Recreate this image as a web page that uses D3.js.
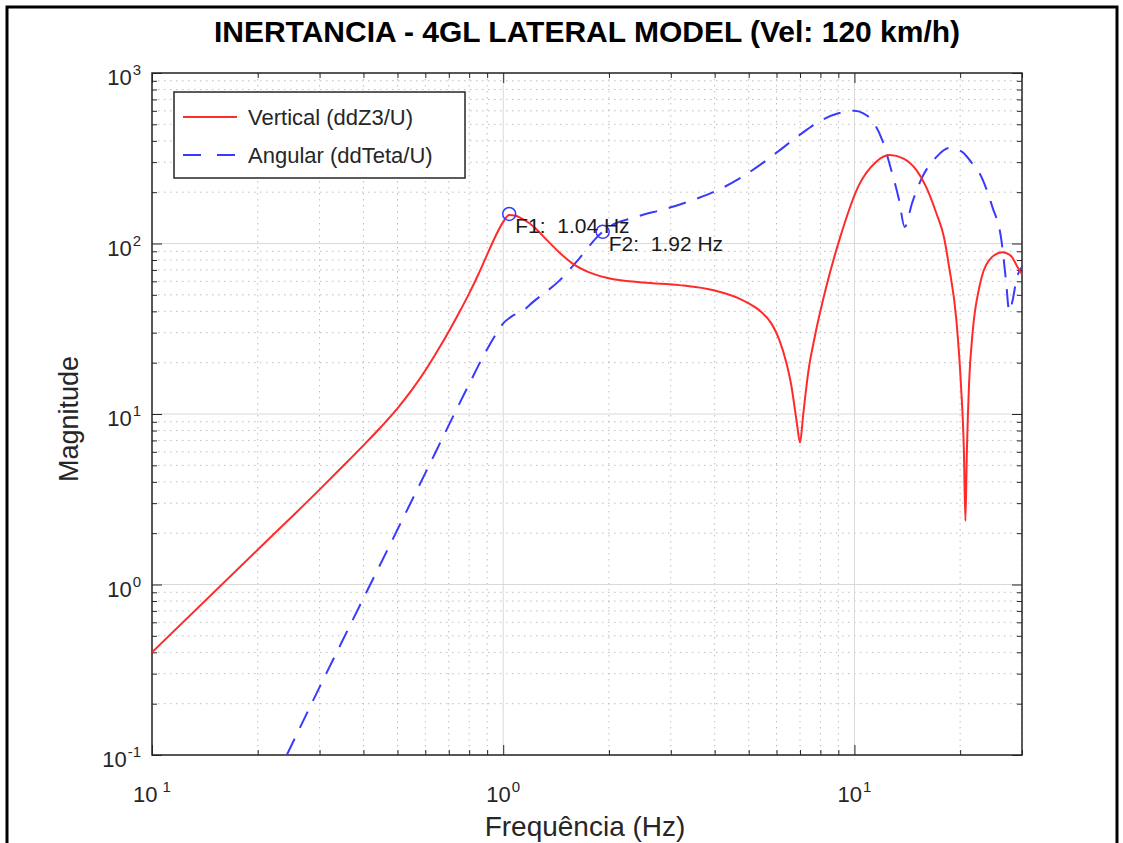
<!DOCTYPE html>
<html>
<head>
<meta charset="utf-8">
<title>Inertancia 4GL</title>
<script src="https://d3js.org/d3.v7.min.js"></script>
<style>
  body { margin: 0; background: #fff; }
  text { font-family: "Liberation Sans", Arial, sans-serif; fill: #262626; }
</style>
</head>
<body>
<div id="chart"></div>
<script>
// Vertical (ddZ3/U)
var vertFreq = [0.1, 0.2, 0.3, 0.35, 0.4, 0.45, 0.5, 0.55, 0.6, 0.65, 0.7, 0.75, 0.8, 0.85, 0.9, 0.95, 1.0, 1.04, 1.08, 1.13, 1.19, 1.26, 1.33, 1.45, 1.58, 1.75, 1.97, 2.5, 3.18, 4.0, 4.7, 5.0, 5.4, 5.8, 6.1, 6.4, 6.6, 6.85, 7.0, 7.15, 7.4, 7.7, 8.3, 9.06, 10.3, 11.5, 12.6, 13.8, 15, 16, 17.1, 18, 18.6, 19.5, 20.1, 20.5, 20.7, 20.9, 21.2, 21.7, 22.7, 24.2, 26.4, 28, 29.1, 30];
var vertMag  = [0.40, 1.6, 3.6, 4.95, 6.55, 8.45, 10.8, 13.9, 18.0, 23.5, 30.5, 39.5, 51, 66, 86, 110, 134, 147, 146, 140, 131, 118, 105, 88, 76, 68, 63, 59, 57, 53, 47.5, 44.5, 40, 34, 27.5, 20, 15, 9, 6.8, 10, 18, 28, 55, 105, 220, 300, 330, 315, 270, 215, 151, 108, 73, 36, 15, 6, 2.36, 6, 15, 30, 56, 80, 89, 84, 73, 66];

// Angular (ddTeta/U)
var angFreq = [0.242, 0.3, 0.4, 0.5, 0.6, 0.7, 0.8, 0.9, 0.97, 1.0, 1.05, 1.15, 1.21, 1.45, 1.65, 1.85, 2.0, 2.33, 3.0, 3.6, 4.13, 4.7, 5.4, 6.1, 7.0, 7.95, 9.0, 10.0, 10.6, 11.2, 12.0, 12.8, 13.4, 13.9, 14.6, 15.6, 17.1, 18.6, 20.3, 21.5, 22.7, 24.7, 26.2, 27.0, 27.6, 28.3, 28.9, 30];
var angMag  = [0.1, 0.25, 0.83, 2.1, 4.5, 8.6, 15, 24, 31, 34, 37, 41, 45, 61, 82, 109, 125, 141, 163, 185, 208, 240, 290, 350, 435, 520, 580, 600, 580, 530, 404, 259, 180, 125, 173, 245, 321, 363, 344, 300, 259, 164, 105, 61, 40, 48, 61, 73];

// marked natural frequencies
var peakFreq = [1.04, 1.92];
var peakMag = [149, 117];
var peakLabels = ["F1:  1.04 Hz", "F2:  1.92 Hz"];

// ticks
var xMajor = [0.1, 1, 10];
var xMajorExp = ["1", "0", "1"];   // minus sign is lost in the original picture
var yMajor = [0.1, 1, 10, 100, 1000];
var yMajorExp = ["-1", "0", "1", "2", "3"];

var seriesNames = ["Vertical (ddZ3/U)", "Angular (ddTeta/U)"];
var seriesColors = ["#ff2a2a", "#3a3aff"];

var W = 1123, H = 843;
var margin = { top: 73, right: 101, bottom: 88, left: 152 };
var width = W - margin.left - margin.right,
    height = H - margin.top - margin.bottom;

var svg = d3.select("#chart").append("svg")
    .attr("width", W)
    .attr("height", H);

// outer frame
svg.append("rect")
    .attr("x", 7).attr("y", 7)
    .attr("width", 1110).attr("height", 900)
    .attr("fill", "none")
    .attr("stroke", "#000")
    .attr("stroke-width", 3);

var g = svg.append("g")
    .attr("transform", "translate(" + margin.left + "," + margin.top + ")");

var x = d3.scaleLog().domain([0.1, 30]).range([0, width]);
var y = d3.scaleLog().domain([0.1, 1000]).range([height, 0]);

// minor values (2..9 of each decade)
var xMinor = x.ticks().filter(function (d) { return xMajor.indexOf(d) < 0; });
var yMinor = y.ticks().filter(function (d) { return yMajor.indexOf(d) < 0; });

// grid
g.selectAll(".xminor").data(xMinor).enter().append("line")
    .attr("x1", function (d) { return x(d); }).attr("x2", function (d) { return x(d); })
    .attr("y1", 0).attr("y2", height)
    .attr("stroke", "#bdbdbd").attr("stroke-dasharray", "1.5,4.5");
g.selectAll(".yminor").data(yMinor).enter().append("line")
    .attr("y1", function (d) { return y(d); }).attr("y2", function (d) { return y(d); })
    .attr("x1", 0).attr("x2", width)
    .attr("stroke", "#bdbdbd").attr("stroke-dasharray", "1.5,4.5");
g.selectAll(".xmajor").data(xMajor).enter().append("line")
    .attr("x1", function (d) { return x(d); }).attr("x2", function (d) { return x(d); })
    .attr("y1", 0).attr("y2", height)
    .attr("stroke", "#d9d9d9");
g.selectAll(".ymajor").data(yMajor).enter().append("line")
    .attr("y1", function (d) { return y(d); }).attr("y2", function (d) { return y(d); })
    .attr("x1", 0).attr("x2", width)
    .attr("stroke", "#d9d9d9");

// axes with inward ticks on all four sides
function tickAxis(axisFn, scale, vals, size, tr) {
    var a = g.append("g").attr("transform", tr)
        .call(axisFn(scale).tickValues(vals).tickSize(size).tickFormat(""));
    a.select(".domain").remove();
    a.selectAll("line").attr("stroke", "#262626");
}
[[xMajor, 10], [xMinor, 5]].forEach(function (p) {
    tickAxis(d3.axisBottom, x, p[0], -p[1], "translate(0," + height + ")");
    tickAxis(d3.axisTop, x, p[0], -p[1], "translate(0,0)");
    tickAxis(d3.axisLeft, y, p[0] === xMajor ? yMajor : yMinor, -p[1], "translate(0,0)");
    tickAxis(d3.axisRight, y, p[0] === xMajor ? yMajor : yMinor, -p[1], "translate(" + width + ",0)");
});

g.append("rect")
    .attr("width", width).attr("height", height)
    .attr("fill", "none").attr("stroke", "#262626").attr("stroke-width", 1.5);

// tick labels
var xl = g.selectAll(".xlab").data(xMajor).enter().append("text")
    .attr("x", function (d) { return x(d); })
    .attr("y", height + 47)
    .attr("text-anchor", "middle")
    .style("font-size", "22px");
xl.append("tspan").text("10");
xl.append("tspan")
    .attr("dx", function (d, i) { return i === 0 ? 5 : 1; })
    .attr("dy", -10).style("font-size", "15px")
    .text(function (d, i) { return xMajorExp[i]; });

var yl = g.selectAll(".ylab").data(yMajor).enter().append("text")
    .attr("x", -11)
    .attr("y", function (d) { return y(d) + 12; })
    .attr("text-anchor", "end")
    .style("font-size", "22px");
yl.append("tspan").text("10");
yl.append("tspan")
    .attr("dx", 1).attr("dy", -10).style("font-size", "15px")
    .text(function (d, i) { return yMajorExp[i]; });

// axis titles
svg.append("text")
    .attr("x", margin.left + width / 2 - 2)
    .attr("y", 836)
    .attr("text-anchor", "middle")
    .style("font-size", "28px")
    .text("Frequência (Hz)");

svg.append("text")
    .attr("transform", "translate(78," + (margin.top + height / 2 + 5) + ") rotate(-90)")
    .attr("text-anchor", "middle")
    .style("font-size", "27px")
    .text("Magnitude");

svg.append("text")
    .attr("x", margin.left + width / 2)
    .attr("y", 42)
    .attr("text-anchor", "middle")
    .style("font-size", "30px")
    .style("font-weight", "bold")
    .style("fill", "#000")
    .text("INERTANCIA - 4GL LATERAL MODEL (Vel: 120 km/h)");

// curves
g.append("clipPath").attr("id", "clip")
    .append("rect").attr("width", width).attr("height", height);

var line = d3.line()
    .x(function (d) { return x(d[0]); })
    .y(function (d) { return y(d[1]); })
    .curve(d3.curveMonotoneX);

var vertData = d3.zip(vertFreq, vertMag);
var angData = d3.zip(angFreq, angMag);

g.append("path")
    .datum(angData)
    .attr("clip-path", "url(#clip)")
    .attr("fill", "none")
    .attr("stroke", seriesColors[1])
    .attr("stroke-width", 2)
    .attr("stroke-dasharray", "18,12")
    .attr("d", line);

g.append("path")
    .datum(vertData)
    .attr("clip-path", "url(#clip)")
    .attr("fill", "none")
    .attr("stroke", seriesColors[0])
    .attr("stroke-width", 2)
    .attr("d", line);

// peak markers
g.selectAll(".peak").data(peakFreq).enter().append("circle")
    .attr("cx", function (d) { return x(d); })
    .attr("cy", function (d, i) { return y(peakMag[i]); })
    .attr("r", 6.5)
    .attr("fill", "none")
    .attr("stroke", seriesColors[1])
    .attr("stroke-width", 1.5);

g.selectAll(".plab").data(peakFreq).enter().append("text")
    .attr("x", function (d) { return x(d) + 6; })
    .attr("y", function (d, i) { return y(peakMag[i]) + 19; })
    .style("font-size", "21px")
    .style("white-space", "pre")
    .style("fill", "#1a1a1a")
    .text(function (d, i) { return peakLabels[i]; });

// legend
var lg = svg.append("g");
lg.append("rect")
    .attr("x", 174).attr("y", 92)
    .attr("width", 291).attr("height", 86)
    .attr("fill", "#fff")
    .attr("stroke", "#262626").attr("stroke-width", 1.5);
seriesNames.forEach(function (name, i) {
    var ly = 117 + i * 38;
    lg.append("line")
        .attr("x1", 183).attr("x2", 237)
        .attr("y1", ly).attr("y2", ly)
        .attr("stroke", seriesColors[i])
        .attr("stroke-width", 2)
        .attr("stroke-dasharray", i === 1 ? "18,16" : null);
    lg.append("text")
        .attr("x", 248).attr("y", ly + 8)
        .style("font-size", "22px")
        .text(name);
});
</script>
</body>
</html>
